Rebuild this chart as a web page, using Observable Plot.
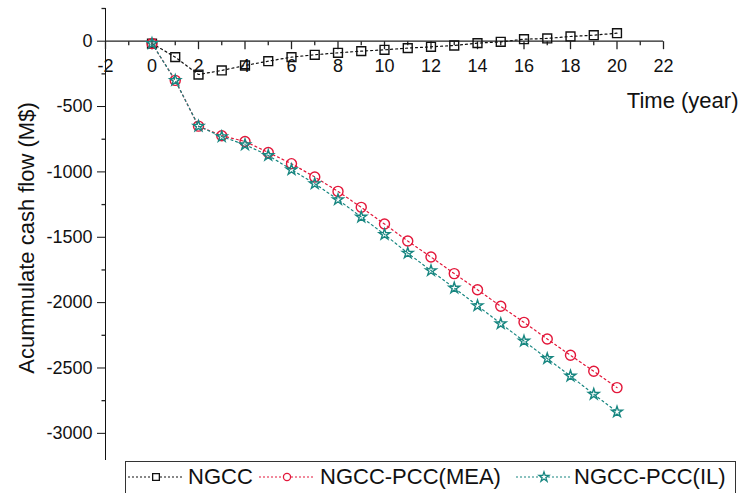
<!DOCTYPE html>
<html><head><meta charset="utf-8">
<script src="https://cdn.jsdelivr.net/npm/d3@7"></script>
<script src="https://cdn.jsdelivr.net/npm/@observablehq/plot@0.6"></script>
<style>
body{margin:0;background:#fff;font-family:"Liberation Sans",Arial,sans-serif;color:#111;}
#legend{position:relative;margin-left:125px;width:611px;height:36px;border:1.5px solid #333;box-sizing:border-box;}
#legend .s{position:absolute;top:5px;}
#legend .t{position:absolute;top:2px;font-size:22px;line-height:26px;white-space:nowrap;}
</style></head><body>
<div id="chart"></div>
<div id="legend"></div>
<script>
const years = [0,1,2,3,4,5,6,7,8,9,10,11,12,13,14,15,16,17,18,19,20];
const ngcc = [-18,-122,-255,-224,-186,-153,-122,-104,-89,-76,-66,-53,-43,-33,-15,-5,15,21,36,46,61];
const mea  = [-18,-300,-650,-723,-767,-851,-937,-1039,-1149,-1271,-1399,-1529,-1651,-1778,-1901,-2028,-2151,-2278,-2403,-2525,-2650];
const il   = [-18,-300,-650,-730,-792,-874,-983,-1090,-1212,-1345,-1478,-1621,-1755,-1888,-2023,-2161,-2294,-2428,-2561,-2701,-2836];
const seriesNames = ["NGCC","NGCC-PCC(MEA)","NGCC-PCC(IL)"];
const seriesColors = ["#111111","#e3173a","#178680"];
const seriesSymbols = ["square","circle","star"];
const xTicks = [-2,0,2,4,6,8,10,12,14,16,18,20,22];
const xMinor = [-1,1,3,5,7,9,11,13,15,17,19,21];
const yTicks = [0,-500,-1000,-1500,-2000,-2500,-3000];
const yMinor = [250,-250,-750,-1250,-1750,-2250,-2750];
const xTitle = "Time (year)";
const yTitle = "Acummulate cash flow (M$)";

const seriesValues = [ngcc, mea, il];
const rows = [];
seriesValues.forEach((vals, s) => vals.forEach((v, i) => rows.push({series: seriesNames[s], year: years[i], value: v})));

const tickDown = len => ({draw(ctx){ctx.moveTo(0,0); ctx.lineTo(0,len);}});
const tickLeft = len => ({draw(ctx){ctx.moveTo(0,0); ctx.lineTo(-len,0);}});
const symR = {square: 5, circle: 5, star: 3.4};

const marks = [
  Plot.ruleY([0], {x1: -2, x2: 22, stroke: "#222", strokeWidth: 1.3}),
  Plot.dot(xTicks, {x: d => d, y: 0, symbol: tickDown(8), stroke: "#222", strokeWidth: 1.3, fill: "none"}),
  Plot.dot(xMinor, {x: d => d, y: 0, symbol: tickDown(4), stroke: "#222", strokeWidth: 1.3, fill: "none"}),
  Plot.dot(yMinor, {x: -2, y: d => d, symbol: tickLeft(4), stroke: "#222", strokeWidth: 1.3, fill: "none"}),
  Plot.text(xTicks, {x: d => d, y: 0, dy: 25, text: d => String(d), fontSize: 18, fill: "#111"}),
  Plot.text([xTitle], {x: 22, y: 0, dx: 75, dy: 60, textAnchor: "end", fontSize: 22, fill: "#111"}),
  Plot.text([yTitle], {frameAnchor: "left", rotate: -90, dx: -79, dy: 4, textAnchor: "middle", fontSize: 22, fill: "#111"})
];
seriesNames.forEach((name, s) => {
  const data = rows.filter(r => r.series === name);
  marks.push(Plot.line(data, {x: "year", y: "value", stroke: seriesColors[s], strokeWidth: 1.2, strokeDasharray: "2,3"}));
  marks.push(Plot.dot(data, {x: "year", y: "value", symbol: seriesSymbols[s], r: symR[seriesSymbols[s]], stroke: seriesColors[s], strokeWidth: 1.4, fill: "none"}));
});

const chart = Plot.plot({
  width: 742, height: 461,
  marginLeft: 105, marginRight: 79, marginTop: 8, marginBottom: 2,
  style: {fontSize: "18px", fontFamily: "'Liberation Sans', Arial, sans-serif", color: "#111", background: "#fff"},
  x: {domain: [-2, 22], axis: null},
  y: {domain: [-3200, 250], ticks: yTicks, tickFormat: d => String(d), tickSize: 8, tickPadding: 5, line: true, label: null},
  marks
});
document.getElementById("chart").appendChild(chart);

// legend
const legend = document.getElementById("legend");
const sampleX = [2, 133, 390];
const textX = [62, 194, 448];
seriesNames.forEach((name, s) => {
  const svg = d3.create("svg").attr("class", "s").attr("width", 56).attr("height", 20)
    .style("left", sampleX[s] + "px");
  svg.append("line").attr("x1", 0).attr("x2", 56).attr("y1", 10).attr("y2", 10)
    .attr("stroke", seriesColors[s]).attr("stroke-width", 1.2).attr("stroke-dasharray", "2,2");
  const sym = {square: d3.symbolSquare, circle: d3.symbolCircle, star: d3.symbolStar}[seriesSymbols[s]];
  const size = {square: 45, circle: 40, star: 30}[seriesSymbols[s]];
  svg.append("path").attr("d", d3.symbol(sym, size)()).attr("transform", "translate(28,10)")
    .attr("fill", "#fff").attr("stroke", seriesColors[s]).attr("stroke-width", 1.3);
  legend.appendChild(svg.node());
  const t = document.createElement("div");
  t.className = "t"; t.style.left = textX[s] + "px"; t.textContent = name;
  legend.appendChild(t);
});
</script>
</body></html>
